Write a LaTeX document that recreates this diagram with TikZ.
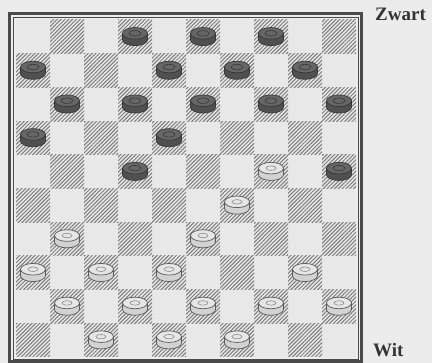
\documentclass[tikz,border=0pt]{standalone}
\usepackage{fontspec}
\setmainfont{Liberation Serif}
\usetikzlibrary{patterns.meta}
\definecolor{paper}{HTML}{ECECEC}
\definecolor{lightsq}{HTML}{E8E8E8}
\definecolor{hatch}{HTML}{7C7C7C}
\definecolor{frame}{HTML}{4A4A4A}
\definecolor{blkside}{HTML}{505050}
\definecolor{blktop}{HTML}{666666}
\definecolor{blkline}{HTML}{383838}
\definecolor{whtside}{HTML}{D2D2D2}
\definecolor{whttop}{HTML}{E6E6E6}
\definecolor{whtline}{HTML}{5A5A5A}
\tikzset{
  darksq/.style={pattern={Lines[angle=45,distance=2.7pt,line width=1pt]},pattern color=hatch},
  lbl/.style={font=\fontsize{19}{19}\selectfont\bfseries, text=black!80, inner sep=0pt},
  pics/piece/.style n args={5}{code={
    \fill[#1] (0,3) ellipse [x radius=12.5, y radius=5.8];
    \draw[#3, line width=0.7pt] (0,3) ellipse [x radius=12.5, y radius=5.8];
    \fill[#1] (-12.5,-3.5) rectangle (12.5,3);
    \draw[#3, line width=0.7pt] (-12.5,-3.5) -- (-12.5,3) (12.5,-3.5) -- (12.5,3);
    \filldraw[fill=#2, draw=#3, line width=0.7pt] (0,-3.5) ellipse [x radius=12.5, y radius=5.8];
    \draw[#4, line width=0.6pt] (0,-3.5) ellipse [x radius=#5, y radius=#5*0.45];
  }}
}
\begin{document}
\begin{tikzpicture}[x=1pt,y=-1pt]
\useasboundingbox (0,0) rectangle (432,363);
\fill[paper] (0,0) rectangle (432,363);
% board squares
\fill[lightsq] (16,20) rectangle (356,357);
\foreach \r in {1,...,10}{
  \foreach \c in {1,...,10}{
    \pgfmathtruncatemacro{\odd}{mod(\r+\c,2)}
    \ifnum\odd=1
      \path[darksq] ({16+(\c-1)*34},{20+(\r-1)*33.7}) rectangle ++(34,33.7);
    \fi
  }
}
% frame
\draw[frame, line width=0.8pt] (13.5,17.3) rectangle (358.5,359.5);
\draw[frame, line width=2.8pt] (9.8,13.5) rectangle (361.5,361.8);
% black pieces
\foreach \r/\c in {1/4,1/6,1/8, 2/1,2/5,2/7,2/9, 3/2,3/4,3/6,3/8,3/10, 4/1,4/5, 5/4,5/10}{
  \pic at ({16+(\c-0.5)*34},{20+(\r-0.5)*33.7}) {piece={blkside}{blktop}{blkline}{blkline}{6}};
}
% white pieces
\foreach \r/\c in {5/8, 6/7, 7/2,7/6, 8/1,8/3,8/5,8/9, 9/2,9/4,9/6,9/8,9/10, 10/3,10/5,10/7}{
  \pic at ({16+(\c-0.5)*34},{20+(\r-0.5)*33.7}) {piece={whtside}{whttop}{whtline}{whtline!70}{5}};
}
\node[lbl, anchor=base west] (zwart) at (375,21) {Zwart};
\node[lbl, anchor=base west] (wit) at (373,357) {Wit};
\end{tikzpicture}
\end{document}
